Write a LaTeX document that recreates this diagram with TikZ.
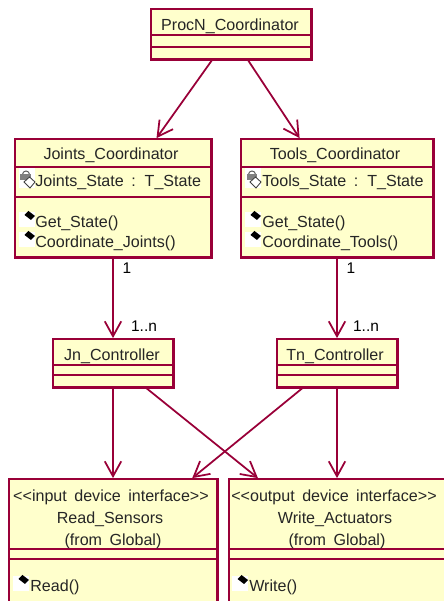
\documentclass[tikz,border=0pt]{standalone}
\usepackage{fontspec}
\setmainfont{Liberation Sans}
\usetikzlibrary{arrows.meta}

\definecolor{umlline}{RGB}{153,0,56}
\definecolor{umlfill}{RGB}{255,255,204}

\newcommand{\lblfont}{\fontsize{9.15}{10}\selectfont\spaceskip 4.25pt\relax}

\tikzset{
  classbox/.style={draw=umlline,fill=umlfill,line width=1pt,inner sep=0pt},
  divider/.style={draw=umlline,line width=1pt},
  edge/.style={draw=umlline,line width=1.5pt},
  assoc/.style={draw=umlline,line width=1pt,-{Straight Barb[length=3mm,width=3.3mm,line width=1pt]}},
  lbl/.style={inner sep=0pt,yshift=-0.04cm,font=\lblfont,text=black!85},
  member/.style={lbl,anchor=west},
  mult/.style={inner sep=0pt,font=\fontsize{8.8}{10}\selectfont,text=black}
}

% marker in front of an operation
\newcommand{\opmark}[2]{
  \fill[white] (#1-0.24,#2-0.13) rectangle (#1+0.08,#2+0.17);
  \fill[black] (#1-0.05,#2+0.2) -- (#1+0.08,#2+0.1) -- (#1,#2+0.02) -- (#1-0.13,#2+0.12) -- cycle;
}
% padlock marker in front of an attribute
\newcommand{\lockmark}[2]{
  \fill[white] (#1-0.24,#2-0.16) rectangle (#1+0.08,#2+0.24);
  \draw[black!65,line width=0.55pt] (#1-0.17,#2+0.11) arc (180:0:0.07);
  \fill[black!50] (#1-0.21,#2-0.01) rectangle (#1+0.0,#2+0.12);
  \draw[black!75,fill=white,line width=0.5pt] (#1-0.03,#2+0.06) -- (#1+0.08,#2-0.04) -- (#1-0.02,#2-0.16) -- (#1-0.14,#2-0.04) -- cycle;
}

\begin{document}
\begin{tikzpicture}

\useasboundingbox (0,0) rectangle (8.86,12.02);

% class boxes
\node[classbox,minimum width=3.2cm,minimum height=1cm] (procn) at (4.62,11.34) {};
\node[classbox,minimum width=3.92cm,minimum height=2.36cm] (joints) at (2.26,8.06) {};
\node[classbox,minimum width=3.84cm,minimum height=2.36cm] (tools) at (6.74,8.06) {};
\node[classbox,minimum width=2.4cm,minimum height=0.96cm] (jn) at (2.26,4.76) {};
\node[classbox,minimum width=2.4cm,minimum height=0.96cm] (tn) at (6.74,4.76) {};
\node[classbox,minimum width=4.16cm,minimum height=2.72cm] (read) at (2.26,1.08) {};
\node[classbox,minimum width=4.56cm,minimum height=2.72cm] (write) at (6.86,1.08) {};

% compartments
\foreach \cls/\ya/\yb in {procn/11.32/11.08,joints/8.68/8.08,tools/8.68/8.08,jn/4.72/4.52,tn/4.72/4.52,read/1.04/0.84,write/1.04/0.84} {
  \draw[divider] (\cls.west |- 0,\ya) -- (\cls.east |- 0,\ya);
  \draw[divider] (\cls.west |- 0,\yb) -- (\cls.east |- 0,\yb);
  \draw[edge] (\cls.south west) -- (\cls.south east) -- (\cls.north east);
}

% markers
\lockmark{0.62}{8.42}
\lockmark{5.14}{8.42}
\opmark{0.62}{7.6}
\opmark{0.62}{7.2}
\opmark{5.14}{7.6}
\opmark{5.14}{7.2}
\opmark{0.5}{0.32}
\opmark{4.88}{0.32}

% associations
\draw[assoc] (procn.-126) -- (joints.54.6);
\draw[assoc] (procn.-57.4) -- (tools.122.8);
\draw[assoc] (joints.south) -- (jn.north);
\draw[assoc] (tools.south) -- (tn.north);
\draw[assoc] (jn.south) -- (read.north);
\draw[assoc] (tn.south) -- (tn.south |- write.north);
\draw[assoc] (jn.-37.7) -- (write.141);
\draw[assoc] (tn.216) -- (read.41.8);

% labels
\node[lbl] (procnname) at (4.6,11.54) {ProcN\_Coordinator};
\node[lbl] (jointsname) at (2.22,8.96) {Joints\_Coordinator};
\node[lbl] (toolsname) at (6.7,8.96) {Tools\_Coordinator};
\node[member] (jointsstate) at (0.7,8.42) {Joints\_State : T\_State};
\node[member] (toolsstate) at (5.24,8.42) {Tools\_State : T\_State};
\node[member] (jointsget) at (0.7,7.6) {Get\_State()};
\node[member] (jointscoord) at (0.7,7.2) {Coordinate\_Joints()};
\node[member] (toolsget) at (5.24,7.6) {Get\_State()};
\node[member] (toolscoord) at (5.24,7.2) {Coordinate\_Tools()};
\node[lbl] (jnname) at (2.24,4.94) {Jn\_Controller};
\node[lbl] (tnname) at (6.7,4.94) {Tn\_Controller};
\node[lbl] (readtype) at (2.22,2.12) {<{}<input device interface>{}>};
\node[lbl] (readname) at (2.2,1.68) {Read\_Sensors};
\node[lbl] (readfrom) at (2.26,1.24) {(from Global)};
\node[lbl] (writetype) at (6.68,2.12) {<{}<output device interface>{}>};
\node[lbl] (writename) at (6.7,1.68) {Write\_Actuators};
\node[lbl] (writefrom) at (6.74,1.24) {(from Global)};
\node[member] (readop) at (0.6,0.32) {Read()};
\node[member] (writeop) at (4.98,0.32) {Write()};

% multiplicities
\node[mult] (jointsone) at (2.54,6.66) {1};
\node[mult] (toolsone) at (7.02,6.66) {1};
\node[mult] (jnmany) at (2.88,5.5) {1..n};
\node[mult] (tnmany) at (7.32,5.5) {1..n};

\end{tikzpicture}
\end{document}
